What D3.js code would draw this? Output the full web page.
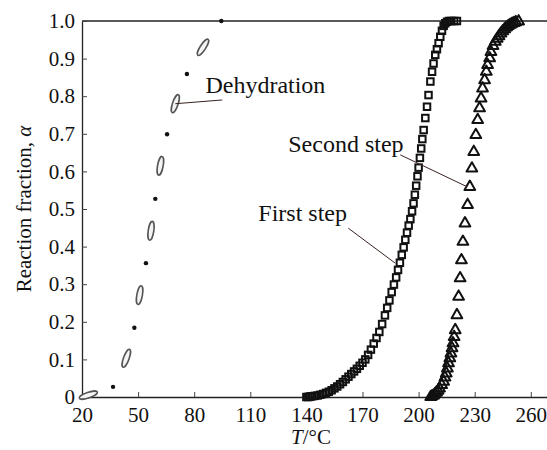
<!DOCTYPE html>
<html lang="en">
<head>
<meta charset="UTF-8">
<title>Reaction fraction vs temperature</title>
<script src="https://d3js.org/d3.v7.min.js"></script>
<style>
  body { margin: 0; background: #fff; }
  svg text { font-family: "Liberation Serif", "Times New Roman", serif; fill: #111; }
</style>
</head>
<body>
<div id="chart-div"></div>
<script>
// dehydration: even index = open oval marker, odd index = filled dot
const dehydT = [23.4, 36.6, 43.7, 48.0, 50.8, 54.2, 56.9, 59.2, 61.9, 65.5, 69.9, 76.1, 84.7, 94.5];
const dehydA = [0.005, 0.027, 0.103, 0.184, 0.271, 0.356, 0.442, 0.527, 0.615, 0.699, 0.780, 0.859, 0.930, 1.0];

// first step (squares)
const firstT = [140.0, 141.0, 142.0, 143.0, 144.5, 146.0, 147.5, 149.0, 150.5, 152.0, 153.5, 155.0, 156.5, 158.0,
  159.5, 161.0, 162.5, 164.0, 165.5, 167.0, 168.5, 170.0, 171.5, 173.0, 174.5, 176.0, 177.5, 179.0, 180.5,
  182.0, 183.2, 184.4, 185.6, 186.8, 188.0, 189.0, 190.0, 191.0, 192.0, 192.9, 193.8, 194.7, 195.6, 196.5,
  197.3, 198.0, 198.7, 199.4, 200.0, 200.7, 201.4, 202.0, 202.7, 203.6, 204.5, 205.3, 206.3, 207.2, 208.0,
  208.9, 209.8, 210.7, 211.6, 212.5, 213.4, 214.3, 215.2, 216.3, 217.5, 219.0, 220.5];
const firstA = [0.000, 0.000, 0.001, 0.002, 0.003, 0.004, 0.006, 0.008, 0.011, 0.014, 0.018, 0.023, 0.028, 0.034,
  0.040, 0.047, 0.054, 0.061, 0.068, 0.075, 0.083, 0.091, 0.100, 0.112, 0.126, 0.142, 0.157, 0.173, 0.194,
  0.217, 0.237, 0.257, 0.279, 0.299, 0.318, 0.338, 0.357, 0.378, 0.398, 0.418, 0.437, 0.456, 0.473, 0.494,
  0.515, 0.538, 0.562, 0.587, 0.610, 0.636, 0.661, 0.686, 0.710, 0.742, 0.772, 0.803, 0.839, 0.865, 0.887,
  0.910, 0.925, 0.941, 0.958, 0.974, 0.987, 0.994, 0.998, 1.000, 1.000, 1.000, 1.000];

// second step (triangles)
const secondT = [206.5, 207.2, 208.0, 208.8, 209.6, 210.4, 211.2, 212.3, 213.4, 214.1, 214.8, 215.4, 216.0, 216.7,
  217.3, 217.9, 218.4, 219.0, 219.6, 220.5, 221.4, 222.2, 222.9, 223.7, 224.8, 226.2, 227.4, 228.5, 229.5,
  230.6, 231.6, 232.6, 233.4, 234.2, 235.3, 236.2, 236.9, 238.0, 238.7, 239.8, 241.0, 242.0, 243.0, 244.0,
  245.0, 246.0, 247.0, 248.0, 249.0, 250.0, 251.0, 252.0, 253.5];
const secondA = [0.000, 0.002, 0.004, 0.008, 0.012, 0.017, 0.023, 0.032, 0.041, 0.052, 0.063, 0.076, 0.090, 0.103,
  0.116, 0.130, 0.143, 0.160, 0.178, 0.218, 0.267, 0.316, 0.364, 0.413, 0.462, 0.511, 0.559, 0.608, 0.652,
  0.697, 0.737, 0.768, 0.794, 0.821, 0.843, 0.865, 0.883, 0.901, 0.918, 0.934, 0.945, 0.953, 0.960, 0.967,
  0.973, 0.978, 0.983, 0.987, 0.990, 0.993, 0.995, 0.997, 0.999];

const xTicks = [20, 50, 80, 110, 140, 170, 200, 230, 260];
const yTicks = [0, 0.1, 0.2, 0.3, 0.4, 0.5, 0.6, 0.7, 0.8, 0.9, 1.0];

// labels with leader lines, all in data units
const labelNames = ["Dehydration", "Second step", "First step"];
const labelPos = [[86.0, 0.808], [130.3, 0.652], [114.3, 0.468]];
const leaderFrom = [[69.9, 0.780], [190.2, 0.644], [162.4, 0.449]];
const leaderTo = [[95.0, 0.790], [226.0, 0.559], [187.5, 0.356]];

const chartWidth = 547, chartHeight = 450;
const margin = {top: 21, left: 82, bottom: 53};

const x = d3.scaleLinear().domain([20, 270]).range([margin.left, margin.left + 250 * 1.87]);
const y = d3.scaleLinear().domain([0, 1]).range([chartHeight - margin.bottom, margin.top]);

const svg = d3.select("#chart-div").append("svg")
  .attr("width", chartWidth)
  .attr("height", chartHeight)
  .attr("viewBox", [0, 0, chartWidth, chartHeight]);

// top frame line
svg.append("line")
  .attr("x1", x(20)).attr("x2", chartWidth)
  .attr("y1", y(1)).attr("y2", y(1))
  .attr("stroke", "#222").attr("stroke-width", 1.3);

const xAxis = g => g
  .attr("transform", `translate(0,${y(0)})`)
  .call(d3.axisBottom(x).tickValues(xTicks).tickSizeInner(-5).tickSizeOuter(0).tickPadding(10))
  .call(g => g.select(".domain").attr("stroke", "#222").attr("stroke-width", 1.3))
  .call(g => g.selectAll(".tick line").attr("stroke", "#444"))
  .call(g => g.selectAll(".tick text").attr("font-size", 21).attr("font-family", null));

const yAxis = g => g
  .attr("transform", `translate(${x(20)},0)`)
  .call(d3.axisLeft(y).tickValues(yTicks).tickSizeInner(-5).tickSizeOuter(0).tickPadding(7)
    .tickFormat(d => d === 0 ? "0" : d.toFixed(1)))
  .call(g => g.select(".domain").attr("stroke", "#222").attr("stroke-width", 1.3))
  .call(g => g.selectAll(".tick line").attr("stroke", "#444"))
  .call(g => g.selectAll(".tick text").attr("font-size", 21).attr("font-family", null));

svg.append("g").call(xAxis);
svg.append("g").call(yAxis);

// axis titles
svg.append("text")
  .attr("x", x(142.5)).attr("y", 444)
  .attr("text-anchor", "middle").attr("font-size", 21)
  .call(t => t.append("tspan").attr("font-style", "italic").text("T"))
  .call(t => t.append("tspan").text("/°C"));

svg.append("text")
  .attr("transform", `translate(31,${(y(0) + y(1)) / 2}) rotate(-90)`)
  .attr("text-anchor", "middle").attr("font-size", 21)
  .call(t => t.append("tspan").text("Reaction fraction, "))
  .call(t => t.append("tspan").attr("font-style", "italic").text("α"));

// dehydration markers
const dehyd = dehydT.map((t, i) => ({t, a: dehydA[i], i}));
const angleAt = i => {
  const p = dehyd[Math.max(i - 1, 0)], n = dehyd[Math.min(i + 1, dehyd.length - 1)];
  return Math.atan2(y(n.a) - y(p.a), x(n.t) - x(p.t)) * 180 / Math.PI;
};
svg.append("g").selectAll("ellipse")
  .data(dehyd.filter(d => d.i % 2 === 0))
  .join("ellipse")
  .attr("transform", d => `translate(${x(d.t)},${y(d.a)}) rotate(${angleAt(d.i)})`)
  .attr("rx", 9.5).attr("ry", 2.8)
  .attr("fill", "#f4f4f4").attr("stroke", "#555").attr("stroke-width", 1.6);
svg.append("g").selectAll("circle")
  .data(dehyd.filter(d => d.i % 2 === 1))
  .join("circle")
  .attr("cx", d => x(d.t)).attr("cy", d => y(d.a))
  .attr("r", 2.2).attr("fill", "#111");

// first step squares
const sq = 6.5;
svg.append("g").selectAll("rect")
  .data(firstT.map((t, i) => ({t, a: firstA[i]})))
  .join("rect")
  .attr("x", d => x(d.t) - sq / 2).attr("y", d => y(d.a) - sq / 2)
  .attr("width", sq).attr("height", sq)
  .attr("fill", "none").attr("stroke", "#111").attr("stroke-width", 2);

// second step triangles
const tri = d3.symbol().type(d3.symbolTriangle).size(50);
svg.append("g").selectAll("path")
  .data(secondT.map((t, i) => ({t, a: secondA[i]})))
  .join("path")
  .attr("transform", d => `translate(${x(d.t)},${y(d.a)})`)
  .attr("d", tri)
  .attr("fill", "none").attr("stroke", "#111").attr("stroke-width", 2)
  .attr("stroke-linejoin", "round");

// labels and leader lines
labelNames.forEach((name, i) => {
  svg.append("line")
    .attr("x1", x(leaderFrom[i][0])).attr("y1", y(leaderFrom[i][1]))
    .attr("x2", x(leaderTo[i][0])).attr("y2", y(leaderTo[i][1]))
    .attr("stroke", "#3a2222").attr("stroke-width", 1);
  svg.append("text")
    .attr("x", x(labelPos[i][0])).attr("y", y(labelPos[i][1]))
    .attr("font-size", 24)
    .text(name);
});
</script>
</body>
</html>
